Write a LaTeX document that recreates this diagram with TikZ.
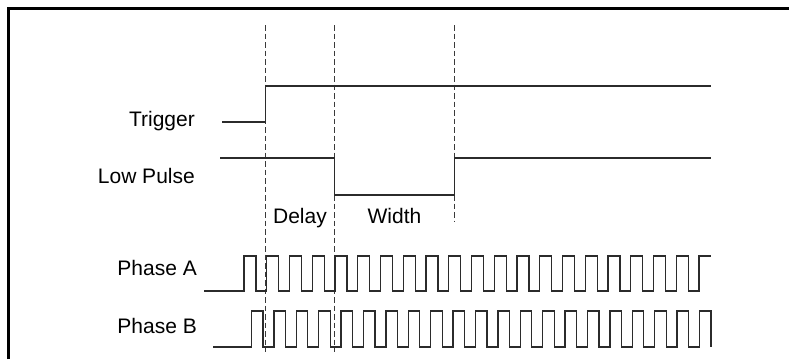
\documentclass[tikz,border=0pt]{standalone}
\usepackage{fontspec}
\setmainfont{Liberation Sans}
\usetikzlibrary{calc}
\definecolor{wavegray}{HTML}{2B2B2B}
\definecolor{dashgray}{HTML}{3A3A3A}

\begin{document}
\begin{tikzpicture}[x=1pt, y=-1pt, font=\fontsize{21}{25}\selectfont,
  wave/.style={wavegray, line width=1.3pt, line join=miter},
  marker/.style={dashgray, line width=1.1pt, dash pattern=on 5.5pt off 3pt},
  siglabel/.style={anchor=base east, inner sep=0pt},
  spanlabel/.style={anchor=base, inner sep=0pt}]

\useasboundingbox (0,0) rectangle (789,359);

% --- Frame (only top and left edges show) ---
\draw[black, line width=2.6pt] (8.5,359) -- (8.5,8.5) -- (789,8.5);

% --- Event times (px) ---
\def\tTrig{265.5}   % trigger edge
\def\tDelay{334.5}  % end of delay
\def\tWidth{454.5}  % end of pulse width
\def\tEnd{710.5}    % right end of traces

% --- Dashed markers ---
\draw[marker] (\tTrig,25) -- (\tTrig,352);
\draw[marker] (\tDelay,25) -- (\tDelay,352);
\draw[marker] (\tWidth,25) -- (\tWidth,222);

% --- Signal names ---
\node[siglabel] (trig) at (195,126.5) {Trigger};
\node[siglabel] (lowpulse) at (195,183.5) {Low Pulse};
\node[siglabel] (phaseA) at (197,275.5) {Phase A};
\node[siglabel] (phaseB) at (197,333.5) {Phase B};

% --- Interval names ---
\node[spanlabel] (delay) at ({(\tTrig+\tDelay)/2},223.5) {Delay};
\node[spanlabel] (width) at ({(\tDelay+\tWidth)/2},223.5) {Width};

% --- Trigger ---
\draw[wave] (222,122) -- (\tTrig,122) -- (\tTrig,86) -- (\tEnd,86);

% --- Low pulse ---
\draw[wave] (220,158) -- (\tDelay,158) -- (\tDelay,195)
  -- (\tWidth,195) -- (\tWidth,158) -- (\tEnd,158);

% --- Phase A (20 full cycles, then high to the end) ---
\def\perA{22.75}
\def\hiA{12}
\draw[wave] (204,291) -- (244,291)
  \foreach \k in {1,...,20}{ -- ++(0,-35) -- ++(\hiA,0) -- ++(0,35) -- ++({\perA-\hiA},0) }
  -- ++(0,-35) -- (\tEnd,256);

% --- Phase B (lags A, ends low) ---
\def\perB{22.4}
\def\hiB{11.5}
\draw[wave] (213,347) -- (251.5,347)
  \foreach \k in {1,...,20}{ -- ++(0,-36) -- ++(\hiB,0) -- ++(0,36) -- ++({\perB-\hiB},0) }
  -- ++(0,-36) -- ++(\hiB,0) -- ++(0,36);

\end{tikzpicture}
\end{document}
